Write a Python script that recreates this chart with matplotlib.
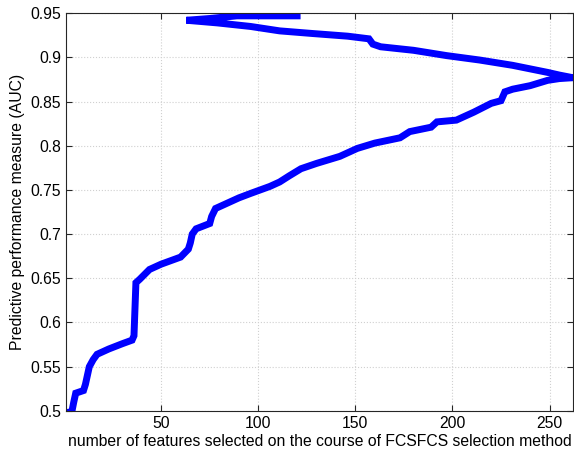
#!/usr/bin/python3
"""AUC along the course of a floating feature selection"""

import numpy as np
import matplotlib
matplotlib.use('Agg')

import matplotlib.pyplot as plt

# forward pass: features added one after another
fwd_x = [1, 4, 5, 6, 10, 11, 13, 15, 17, 23, 30, 35, 36, 37, 39, 44, 50, 55,
         60, 64, 65, 66, 68, 75, 76, 78, 85, 90, 96, 106, 111, 116, 122, 130,
         142, 151, 160, 173, 178, 189, 192, 202, 211, 220, 225, 227, 231, 240,
         249, 255, 262]
fwd_auc = [0.498, 0.499, 0.51, 0.52, 0.523, 0.53, 0.55, 0.558, 0.564, 0.57,
           0.576, 0.58, 0.585, 0.645, 0.649, 0.66, 0.666, 0.67, 0.674, 0.683,
           0.69, 0.70, 0.706, 0.712, 0.72, 0.729, 0.736, 0.741, 0.746, 0.754,
           0.759, 0.766, 0.774, 0.78, 0.788, 0.797, 0.803, 0.809, 0.816, 0.821,
           0.827, 0.829, 0.838, 0.848, 0.851, 0.861, 0.864, 0.868, 0.874,
           0.876, 0.877]

# backward pass: features removed again
bwd_x = [262, 255, 249, 240, 231, 214, 197, 180, 163, 159, 157, 146, 128,
         111, 96, 79, 63]
bwd_auc = [0.877, 0.880, 0.883, 0.887, 0.891, 0.897, 0.902, 0.908, 0.912,
           0.915, 0.921, 0.924, 0.927, 0.930, 0.935, 0.939, 0.942]

# last forward pass at the top
top_x = [63, 75, 89, 120]
top_auc = [0.943, 0.944, 0.947, 0.947]


def main():
    x = np.concatenate([fwd_x, bwd_x[1:], top_x[1:]])
    y = np.concatenate([fwd_auc, bwd_auc[1:], top_auc[1:]])

    plt.rcParams['font.family'] = ['Liberation Sans', 'DejaVu Sans']
    fig = plt.figure(figsize=(5.74, 4.55), dpi=100)
    ax = fig.add_axes([0.115, 0.097, 0.883, 0.874])

    ax.plot(x, y, color=(0, 0, 1), linewidth=5, solid_joinstyle='miter')

    ax.set_xlim(1, 262)
    ax.set_ylim(0.5, 0.95)
    ax.set_xticks([50, 100, 150, 200, 250])
    ax.set_yticks(np.arange(0.5, 0.951, 0.05))
    ax.set_yticklabels(['0.5', '0.55', '0.6', '0.65', '0.7', '0.75', '0.8',
                        '0.85', '0.9', '0.95'])
    ax.grid(True, linestyle=':', color='#d0d0d0', linewidth=0.8)
    ax.tick_params(direction='in', top=True, right=True, labelsize=11.3,
                   color='#262626', length=4)
    for s in ax.spines.values():
        s.set_color('#262626')

    ax.set_xlabel("number of features selected on the course of FCSFCS selection method",
                  fontsize=11.3, labelpad=2)
    ax.set_ylabel("Predictive performance measure (AUC)", fontsize=11.3,
                  labelpad=4)

    plt.savefig("out.png", dpi=100)


if __name__ == "__main__":
    main()
